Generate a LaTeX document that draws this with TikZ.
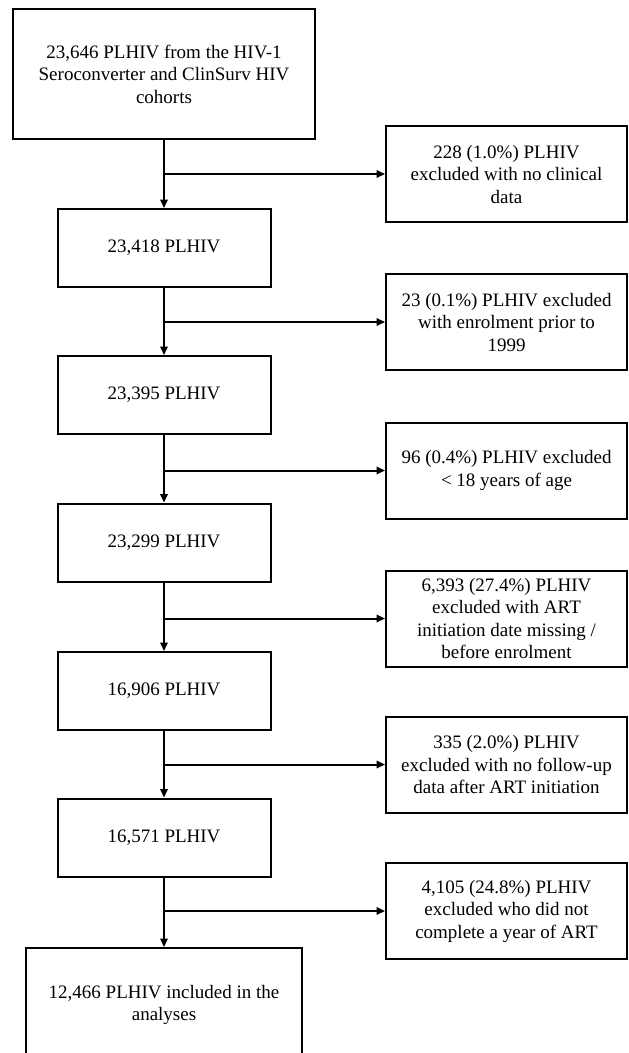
\documentclass[tikz,border=0pt]{standalone}
\usepackage{fontspec}
\setmainfont{Liberation Serif}
\usetikzlibrary{arrows.meta}

\begin{document}
\begin{tikzpicture}[x=1pt, y=-1pt,
        box/.style={draw, line width=2pt, align=center, inner sep=2pt,
            font=\fontsize{19}{22.5}\selectfont},
        stage/.style={box, minimum width=213pt, minimum height=78pt},
        excl/.style={box, minimum width=241pt, minimum height=96pt},
        arrow/.style={line width=2pt, -{Triangle[length=8.5pt,width=7.5pt]}}]

            \useasboundingbox (0,0) rectangle (629,1053);

            \node (cohort) [box, minimum width=302pt, minimum height=130pt] at (164,74)
                {23,646 PLHIV from the HIV-1\\Seroconverter and ClinSurv HIV\\cohorts};

            \node (n23418) [stage] at (164,248) {23,418 PLHIV};
            \node (n23395) [stage] at (164,395) {23,395 PLHIV};
            \node (n23299) [stage] at (164,542.5) {23,299 PLHIV};
            \node (n16906) [stage] at (164,691) {16,906 PLHIV};
            \node (n16571) [stage] at (164,837.5) {16,571 PLHIV};
            \node (final) [box, minimum width=276pt, minimum height=114pt] at (164,1005)
                {12,466 PLHIV included in the\\analyses};

            \node (noclin) [excl] at (506.5,174) {228 (1.0\%) PLHIV\\excluded with no clinical\\data};
            \node (prior) [excl] at (506.5,322) {23 (0.1\%) PLHIV excluded\\with enrolment prior to\\1999};
            \node (age) [excl] at (506.5,470.5) {96 (0.4\%) PLHIV excluded\\< 18 years of age};
            \node (artdate) [excl] at (506.5,618.5) {6,393 (27.4\%) PLHIV\\excluded with ART\\initiation date missing /\\before enrolment};
            \node (nofup) [excl] at (506.5,764.5) {335 (2.0\%) PLHIV\\excluded with no follow-up\\data after ART initiation};
            \node (noyear) [excl] at (506.5,911) {4,105 (24.8\%) PLHIV\\excluded who did not\\complete a year of ART};

            \draw [arrow] (cohort.south) -- (n23418.north);
            \draw [arrow] (n23418.south) -- (n23395.north);
            \draw [arrow] (n23395.south) -- (n23299.north);
            \draw [arrow] (n23299.south) -- (n16906.north);
            \draw [arrow] (n16906.south) -- (n16571.north);
            \draw [arrow] (n16571.south) -- (final.north);

            \draw [arrow] (cohort.south |- noclin.west) -- (noclin.west);
            \draw [arrow] (n23418.south |- prior.west) -- (prior.west);
            \draw [arrow] (n23395.south |- age.west) -- (age.west);
            \draw [arrow] (n23299.south |- artdate.west) -- (artdate.west);
            \draw [arrow] (n16906.south |- nofup.west) -- (nofup.west);
            \draw [arrow] (n16571.south |- noyear.west) -- (noyear.west);

\end{tikzpicture}
\end{document}
